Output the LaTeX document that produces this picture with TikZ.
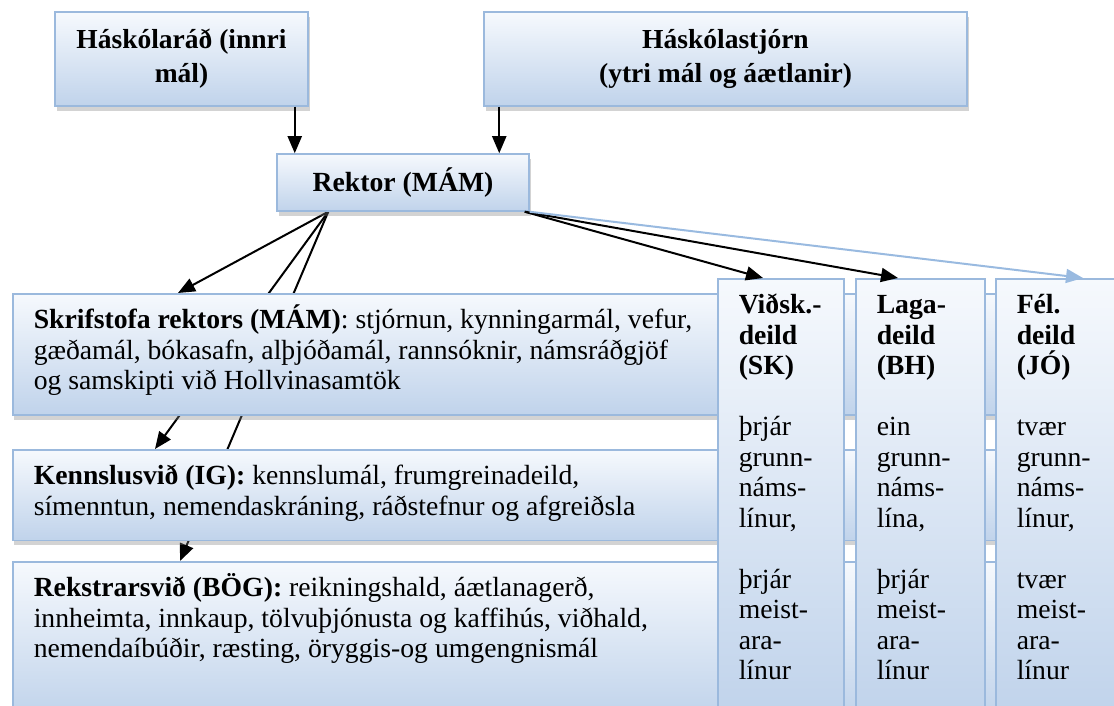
\documentclass[tikz,border=0pt]{standalone}
\usepackage{fontspec}
\setmainfont{Liberation Serif}
\usetikzlibrary{arrows.meta,positioning,shadows,backgrounds}

\definecolor{boxline}{RGB}{155,185,221}
\definecolor{boxtop}{RGB}{246,249,253}
\definecolor{boxbottom}{RGB}{192,211,235}
\definecolor{linkblue}{RGB}{153,186,224}

\newcommand{\orgfont}{\fontsize{27.7pt}{30.5pt}\selectfont}

\begin{document}
\begin{tikzpicture}[
    x=1pt, y=-1pt,
    box/.style={rectangle, draw=boxline, line width=1.5pt,
                top color=boxtop, bottom color=boxbottom,
                drop shadow={opacity=0.35, shadow xshift=1.5pt, shadow yshift=-5pt},
                inner sep=0pt, align=center, font=\orgfont\bfseries},
    board/.style={box, minimum height=94pt, font=\fontsize{27.5pt}{34pt}\selectfont\bfseries},
    unitbox/.style={box, anchor=north west, align=left, font=\orgfont,
                    inner xsep=21pt, inner ysep=10pt,
                    execute at begin node={\spaceskip=0pt\xspaceskip=0pt\noindent\rule{0pt}{25pt}}},
    deep/.style={execute at end node={\rule[-#1]{0pt}{#1}}},
    arrow/.style={-{Triangle[length=17pt,width=14pt]}, line width=2pt}
]
\useasboundingbox (0,0) rectangle (1114,706);
\clip (0,0) rectangle (1114,706);

% Boards on top
\node[board, minimum width=253pt] (rad) at (181.5,59) {Háskólaráð (innri\\mál)};
\node[board, minimum width=483pt] (stjorn) at (725.5,59) {Háskólastjórn\\(ytri mál og áætlanir)};

% Rector
\node[box, minimum width=252pt, minimum height=57pt] (rektor) at (403,182.5) {Rektor (MÁM)};

\draw[arrow] ([xshift=-14pt]rad.south east) -- ([xshift=-14pt]rad.south east |- rektor.north);
\draw[arrow] ([xshift=16pt]stjorn.south west) -- ([xshift=16pt]stjorn.south west |- rektor.north);

% Offices (left)
\node[unitbox, text width=1076pt, deep=15pt] (skrif) at (12,293)
    {\textbf{Skrifstofa rektors (MÁM)}: stjórnun, kynningarmál, vefur,\\
     gæðamál, bókasafn, alþjóðamál, rannsóknir, námsráðgjöf\\
     og samskipti við Hollvinasamtök};
\node[unitbox, text width=1076pt, deep=15pt] (kennsla) at (12,449)
    {\textbf{Kennslusvið (IG):} kennslumál, frumgreinadeild,\\
     símenntun, nemendaskráning, ráðstefnur og afgreiðsla};
\node[unitbox, text width=1076pt, deep=50pt] (rekstur) at (12,561)
    {\textbf{Rekstrarsvið (BÖG):} reikningshald, áætlanagerð,\\
     innheimta, innkaup, tölvuþjónusta og kaffihús, viðhald,\\
     nemendaíbúðir, ræsting, öryggis-og umgengnismál};

% Departments (right)
\node[unitbox, text width=84pt, deep=27pt] (vidsk) at (717,278)
    {\textbf{Viðsk.-\\deild\\(SK)}\\[30.5pt]þrjár\\grunn-\\náms-\\línur,\\[30.5pt]þrjár\\meist-\\ara-\\línur};
\node[unitbox, text width=87pt, deep=27pt] (laga) at (855,278)
    {\textbf{Laga-\\deild\\(BH)}\\[30.5pt]ein\\grunn-\\náms-\\lína,\\[30.5pt]þrjár\\meist-\\ara-\\línur};
\node[unitbox, text width=93pt, deep=27pt] (fel) at (995,278)
    {\textbf{Fél.\\deild\\(JÓ)}\\[30.5pt]tvær\\grunn-\\náms-\\línur,\\[30.5pt]tvær\\meist-\\ara-\\línur};

% Rector to offices, behind the boxes
\begin{scope}[on background layer]
\draw[arrow] ([xshift=52pt]rektor.south west) -- ([xshift=166pt]skrif.north west);
\draw[arrow] ([xshift=52pt]rektor.south west) -- ([xshift=143pt]kennsla.north west);
\draw[arrow] ([xshift=52pt]rektor.south west) -- ([xshift=168pt]rekstur.north west);
\end{scope}

% Rector to departments
\draw[arrow] ([xshift=-5pt]rektor.south east) -- ([xshift=46pt]vidsk.north west);
\draw[arrow] ([xshift=-5pt]rektor.south east) -- ([xshift=43pt]laga.north west);
\draw[arrow, linkblue] (rektor.south east) -- ([xshift=88pt]fel.north west);

\end{tikzpicture}
\end{document}
